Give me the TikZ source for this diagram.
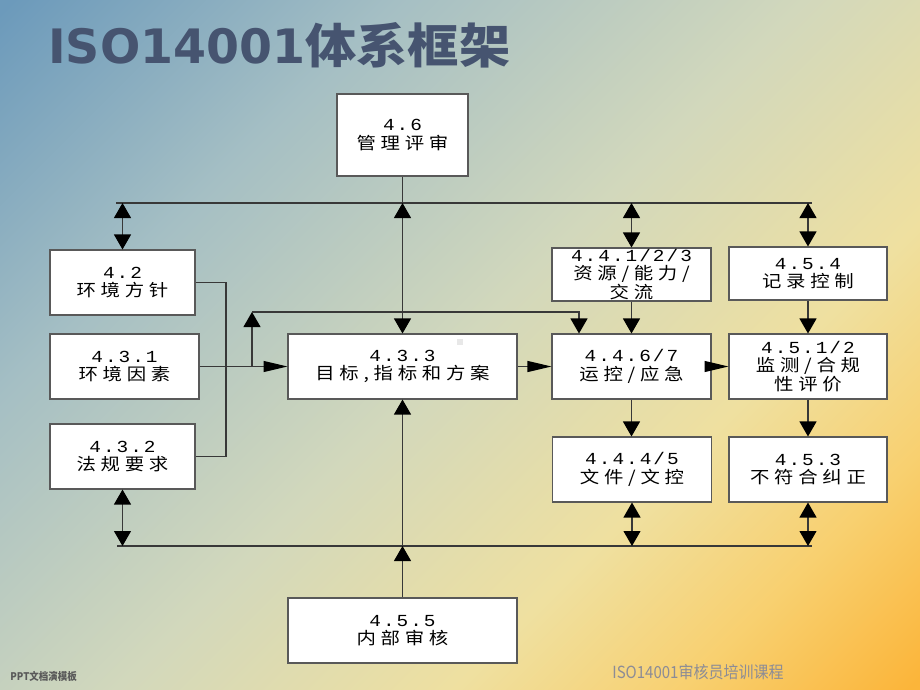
\documentclass[tikz,border=0pt]{standalone}
\usepackage{fontspec}
\setmainfont{Liberation Sans}
\newfontfamily\cjk[FakeStretch=1.15,LetterSpace=28]{Noto Sans CJK SC}
\newfontfamily\numfont[FakeStretch=1.15,LetterSpace=12]{Liberation Mono}
\newfontfamily\titlefont{DejaVu Sans}
\newfontfamily\titlecjk[FakeStretch=1.08]{Noto Sans CJK SC}
\newfontfamily\footfont[FakeStretch=0.9]{Noto Sans CJK SC}
\usetikzlibrary{positioning,arrows.meta}

\definecolor{bgA}{HTML}{6C9ABB}
\definecolor{bgB}{HTML}{A5BFC4}
\definecolor{bgC}{HTML}{D2D8BC}
\definecolor{bgD}{HTML}{EFE0A0}
\definecolor{bgE}{HTML}{F8D070}
\definecolor{bgF}{HTML}{FBB53A}
\definecolor{linecol}{HTML}{383838}
\definecolor{boxcol}{HTML}{595959}
\definecolor{titlecol}{HTML}{465470}
\definecolor{footcol}{HTML}{8C8C96}
\pgfdeclarehorizontalshading{bgshade}{100bp}{color(0bp)=(bgA); color(15bp)=(bgA);
  color(32bp)=(bgB); color(50bp)=(bgC); color(65bp)=(bgD); color(75bp)=(bgE);
  color(85bp)=(bgF); color(100bp)=(bgF)}

\begin{document}
\begin{tikzpicture}[
      x=0.02cm, y=-0.02cm,
      mybox/.style={draw=boxcol, fill=white, line width=0.6pt, align=center, inner sep=0pt,
        minimum height=1.3cm, font=\cjk\fontsize{9.6}{10.4}\selectfont},
      wire/.style={draw=linecol, line width=0.6pt},
      vtip/.style={wire, -{Triangle[length=0.3cm,width=0.34cm,color=black]}},
      vboth/.style={wire, {Triangle[length=0.3cm,width=0.34cm,color=black]}-{Triangle[length=0.3cm,width=0.34cm,color=black]}},
      htip/.style={wire, -{Triangle[length=0.48cm,width=0.22cm,color=black]}}
    ]
    \useasboundingbox (0,0) rectangle (920,690);
    \shade[shading=bgshade, shading angle=-45] (0,0) rectangle (920,690);

    % title and footer
    \node[anchor=base west, inner sep=0pt, text=titlecol] (Title) at (48,63)
      {{\titlefont\bfseries\fontsize{27}{30}\selectfont ISO14001}{\titlecjk\bfseries\fontsize{27}{30}\selectfont 体系框架}};
    \node[anchor=west, inner sep=0pt, text=footcol, font=\footfont\fontsize{9.5}{11}\selectfont] (Footer) at (612,672) {ISO14001审核员培训课程};
    \node[anchor=west, inner sep=0pt, text=gray!70!black, font=\footfont\bfseries\fontsize{6}{7}\selectfont] (Brand) at (10,676) {PPT文档演模板};

    % boxes
    \node[mybox, minimum width=2.62cm, minimum height=1.64cm] (MgmtReview) at (402.5,135) {{\numfont 4.6}\\管理评审};
    \node[mybox, minimum width=2.9cm] (Policy) at (122.5,282.5) {{\numfont 4.2}\\环境方针};
    \node[mybox, minimum width=2.98cm] (EnvAspects) at (124.5,366.5) {{\numfont 4.3.1}\\环境因素};
    \node[mybox, minimum width=2.9cm] (LegalReq) at (122.5,456.5) {{\numfont 4.3.2}\\法规要求};
    \node[mybox, minimum width=4.58cm] (Objectives) at (402.5,366.5) {{\numfont 4.3.3}\\目标,指标和方案};
    \node[mybox, minimum width=3.18cm, minimum height=1.06cm] (Resources) at (631.5,274.5) {{\numfont 4.4.1/2/3}\\资源/能力/\\交流};
    \node[mybox, minimum width=3.16cm, minimum height=1.06cm] (Records) at (808,273.5) {{\numfont 4.5.4}\\记录控制};
    \node[mybox, minimum width=3.18cm] (Operation) at (631.5,366.5) {{\numfont 4.4.6/7}\\运控/应急};
    \node[mybox, minimum width=3.16cm] (Monitoring) at (808,366.5) {{\numfont 4.5.1/2}\\监测/合规\\性评价};
    \node[mybox, minimum width=3.17cm] (Documents) at (632,469.5) {{\numfont 4.4.4/5}\\文件/文控};
    \node[mybox, minimum width=3.16cm] (Correction) at (808,469.5) {{\numfont 4.5.3}\\不符合纠正};
    \node[mybox, minimum width=4.58cm] (InternalAudit) at (402.5,630.5) {{\numfont 4.5.5}\\内部审核};
    \fill[gray!18] (457,339) rectangle (463,345);

    % buses
    \coordinate (TopL) at (116,203);
    \coordinate (TopR) at (812,203);
    \coordinate (BotL) at (117,546);
    \coordinate (BotR) at (812,546);
    \coordinate (Junction) at (226,366.5);
    \coordinate (FbL) at (252,312);
    \coordinate (FbR) at (579,312);
    \draw[wire] (TopL) -- (TopR);
    \draw[wire] (BotL) -- (BotR);

    % connectors
    \draw[wire] (MgmtReview) -- (MgmtReview |- TopL);
    \draw[vboth] (MgmtReview |- TopL) -- (Objectives.north);
    \draw[vboth] (Policy.north |- TopL) -- (Policy.north);
    \draw[vboth] (Resources.north |- TopL) -- (Resources.north);
    \draw[vboth] (Records.north |- TopL) -- (Records.north);
    \path (Resources) edge[vtip] (Operation)
      (Records) edge[vtip] (Monitoring)
      (Operation.south) edge[vtip] (Operation.south |- Documents.north)
      (Monitoring) edge[vtip] (Correction);
    \path (EnvAspects) edge[htip] (Objectives)
      (Objectives) edge[htip] (Operation)
      (Operation) edge[htip] (Monitoring);
    \draw[wire] (Policy.east) -| (Junction) |- (LegalReq.east);
    \draw[vtip] (EnvAspects.east -| FbL) -- (FbL);
    \draw[vtip] (FbL) -- (FbR) -- (FbR |- Operation.north);
    \draw[vboth] (LegalReq.south) -- (LegalReq.south |- BotL);
    \draw[vboth] (Documents.south) -- (Documents.south |- BotL);
    \draw[vboth] (Correction.south) -- (Correction.south |- BotL);
    \draw[vtip] (InternalAudit) -- (InternalAudit |- BotL);
    \draw[vtip] (InternalAudit |- BotL) -- (Objectives);
\end{tikzpicture}
\end{document}
